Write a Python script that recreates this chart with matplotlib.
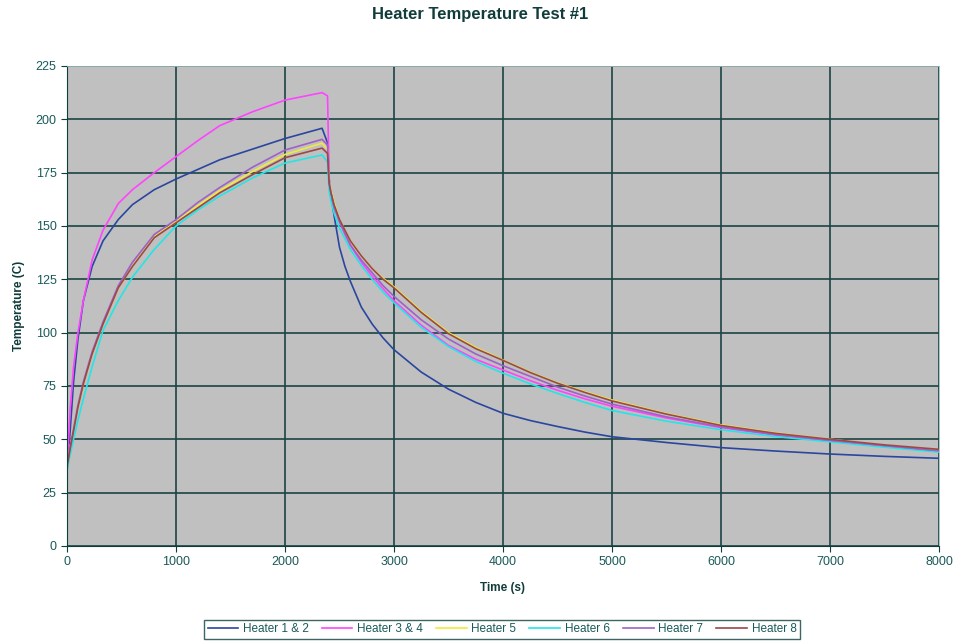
import matplotlib
matplotlib.use("Agg")
import matplotlib.pyplot as plt

plt.rcParams['font.family'] = ['Liberation Sans', 'DejaVu Sans']

# time axis (s)
time = [0, 30, 60, 100, 150, 230, 330, 470, 600, 800, 1000, 1200, 1400, 1700, 2000,
        2340, 2390, 2405, 2420, 2450, 2500, 2550, 2600, 2700, 2800, 2900, 3000,
        3250, 3500, 3750, 4000, 4250, 4500, 4750, 5000,
        5500, 6000, 6500, 7000, 7500, 8000]

# temperatures (C)
heater_1_2 = [35, 55, 77, 97, 115, 131, 143, 153, 160, 167, 172, 176.5, 181, 186, 191,
              195.8, 189, 172, 165, 155, 140, 131, 124, 112, 104, 97.5, 92,
              81.5, 73.5, 67.3, 62.2, 58.8, 56, 53.4, 51.2,
              48.5, 46.1, 44.5, 43.1, 42, 41.1]
heater_3_4 = [38, 65, 84, 100, 115, 134, 148, 160.5, 167, 175, 182.5, 190, 197, 203.5, 209,
              212.5, 211, 172, 166, 159, 152, 146, 141, 133, 126.5, 120.5, 115,
              103.5, 94, 87.5, 82.5, 77.5, 73, 69, 65.5,
              60, 55.5, 52, 49.2, 46.7, 44.5]
heater_5 = [38, 47, 55, 65, 76, 90, 104, 121, 131, 145, 152, 159.5, 166.5, 175.5, 183.5,
            188.8, 186, 171, 167, 161, 153, 148, 143, 136, 130, 125.5, 121.5,
            110, 100, 93, 87.2, 81.5, 76.5, 72.3, 68.4,
            62, 56.8, 53, 50, 47.3, 45]
heater_6 = [36, 43, 50, 59, 69, 84, 101, 115, 126, 139, 150, 157.5, 164, 172.5, 179.5,
            183.3, 180, 166, 162, 156, 149, 144, 139, 131.5, 125, 119, 114,
            102.5, 93.5, 86.5, 81, 76, 71.5, 67.3, 63.5,
            58.5, 54.5, 51.3, 48.8, 46.3, 44]
heater_7 = [38, 47, 55, 66, 77, 91, 105, 122, 133, 146, 153, 161, 168, 177.5, 185.6,
            190.6, 188, 170, 166, 159, 152, 146.5, 141, 134, 128, 122, 117,
            106, 97, 90, 84.5, 79.5, 74.5, 70.3, 66.5,
            60.5, 55.8, 52.2, 49.5, 47, 44.6]
heater_8 = [37, 46, 54, 65, 76, 90, 104, 121, 131, 144.5, 151.5, 158.5, 165.5, 174, 182,
            186.5, 184, 170, 166, 160, 153, 148, 143, 136, 130, 125, 121,
            109.5, 99.5, 92.5, 87, 81.3, 76.3, 72, 68,
            61.8, 56.5, 52.8, 50, 47.4, 45.3]

labels = ["Heater 1 & 2", "Heater 3 & 4", "Heater 5", "Heater 6", "Heater 7", "Heater 8"]
series = [heater_1_2, heater_3_4, heater_5, heater_6, heater_7, heater_8]
colors = ["#2a46a0", "#ff44ff", "#f2ea3a", "#22e6e6", "#a060c8", "#9a4848"]

txt = "#103c3c"

fig = plt.figure(figsize=(9.55, 6.43), dpi=100)
ax = fig.add_axes([0.0702, 0.1509, 0.913, 0.7465])
ax.set_facecolor("#c0c0c0")

for vals, lab, col in zip(series, labels, colors):
    ax.plot(time, vals, color=col, lw=1.2, label=lab)

ax.set_xlim(0, 8000)
ax.set_ylim(0, 225)
ax.set_xticks(range(0, 8001, 1000))
ax.set_yticks(range(0, 226, 25))
ax.grid(True, color="#1c4444", lw=1.2)
ax.set_axisbelow(True)
ax.tick_params(direction="out", length=4, color=txt, labelcolor="#1a5a5a", labelsize=9)

for s in ["left", "bottom"]:
    ax.spines[s].set_color(txt)
for s in ["top", "right"]:
    ax.spines[s].set_color("#9ababa")
    ax.spines[s].set_linewidth(0.6)

ax.set_xlabel("Time (s)", fontsize=8.5, fontweight="bold", color=txt, labelpad=10)
ax.set_ylabel("Temperature (C)", fontsize=8.5, fontweight="bold", color=txt, labelpad=8)
fig.text(0.503, 0.977, "Heater Temperature Test #1", ha="center", va="center",
         fontsize=12, fontweight="bold", color=txt)

leg = fig.legend(loc="center", bbox_to_anchor=(0.5257, 0.0215), ncol=6, fontsize=8.5,
                 frameon=True, fancybox=False, handlelength=2.6, columnspacing=1.1,
                 handletextpad=0.4, borderpad=0.3)
leg.get_frame().set_edgecolor(txt)
leg.get_frame().set_linewidth(1.0)
for t in leg.get_texts():
    t.set_color("#1a5a5a")

fig.savefig("out.png", dpi=100, facecolor="white")
